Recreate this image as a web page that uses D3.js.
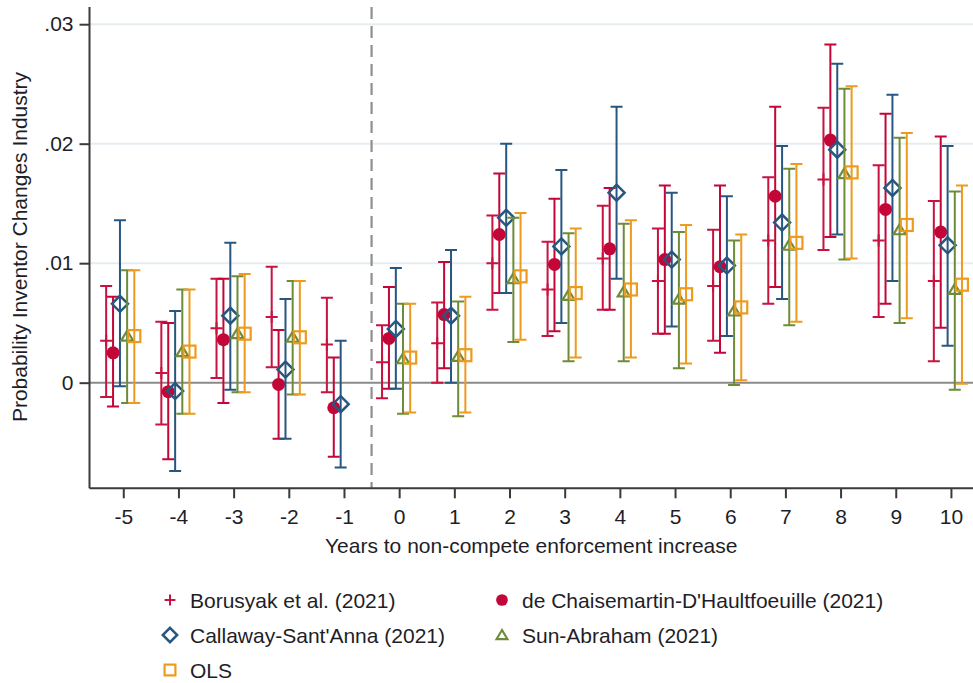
<!DOCTYPE html>
<html>
<head>
<meta charset="utf-8">
<script src="https://cdn.jsdelivr.net/npm/d3@7"></script>
<style>
  html, body { margin: 0; padding: 0; background: #fff; }
  svg { display: block; font-family: "Liberation Sans", Arial, sans-serif; }
</style>
</head>
<body>
<svg id="chart" width="973" height="683"></svg>
<script>
// Event-study estimates: years relative to the enforcement change
const periods = [-5, -4, -3, -2, -1, 0, 1, 2, 3, 4, 5, 6, 7, 8, 9, 10];

// Point estimates and 95% confidence bounds, one array per estimator
const borusyakEst = [0.0035, 0.0008, 0.00455, 0.0055, 0.0032, 0.0017, 0.0033, 0.0100, 0.0078, 0.0104, 0.0085, 0.0081, 0.0119, 0.0170, 0.0119, 0.0085];
const borusyakLo  = [-0.0012, -0.0035, 0.0004, 0.0013, -0.0008, -0.0013, 0.0000, 0.0061, 0.0039, 0.0061, 0.0041, 0.0035, 0.0066, 0.0111, 0.0055, 0.0018];
const borusyakHi  = [0.0081, 0.0051, 0.0087, 0.0097, 0.0071, 0.0048, 0.0067, 0.0140, 0.0118, 0.0148, 0.0129, 0.0128, 0.0172, 0.0230, 0.0182, 0.0152];

const dcdhEst = [0.0025, -0.00075, 0.0036, -0.00015, -0.0021, 0.0037, 0.0057, 0.0124, 0.0099, 0.0112, 0.0103, 0.0097, 0.0156, 0.0203, 0.0145, 0.0126];
const dcdhLo  = [-0.0020, -0.0064, -0.0017, -0.0047, -0.0062, -0.0005, 0.0012, 0.0075, 0.0043, 0.0061, 0.0041, 0.0025, 0.0080, 0.0122, 0.0066, 0.0046];
const dcdhHi  = [0.0072, 0.0050, 0.0087, 0.0044, 0.0021, 0.0080, 0.0101, 0.0175, 0.0154, 0.0163, 0.0165, 0.0165, 0.0231, 0.0283, 0.0225, 0.0206];

const csEst = [0.0066, -0.0007, 0.0056, 0.0011, -0.0018, 0.0045, 0.0056, 0.0138, 0.0114, 0.0159, 0.0103, 0.0098, 0.0134, 0.0195, 0.0163, 0.0115];
const csLo  = [-0.0003, -0.0074, -0.0006, -0.0047, -0.0071, -0.0005, 0.0000, 0.0075, 0.0050, 0.0087, 0.0047, 0.0039, 0.0070, 0.0124, 0.0085, 0.0031];
const csHi  = [0.0136, 0.0060, 0.0117, 0.0070, 0.0035, 0.0096, 0.0111, 0.0200, 0.0178, 0.0231, 0.0159, 0.0156, 0.0198, 0.0267, 0.0241, 0.0198];

// Sun-Abraham and OLS are normalised at t = -1 (no estimate)
const saEst = [0.0039, 0.0026, 0.0041, 0.0038, null, 0.0020, 0.0022, 0.0087, 0.0073, 0.0076, 0.0070, 0.0060, 0.0115, 0.0175, 0.0128, 0.0078];
const saLo  = [-0.0017, -0.0026, -0.0008, -0.0010, null, -0.0026, -0.0028, 0.0034, 0.0018, 0.0018, 0.0012, -0.0002, 0.0048, 0.0103, 0.0050, -0.0006];
const saHi  = [0.0094, 0.0078, 0.0089, 0.0085, null, 0.0066, 0.0068, 0.0138, 0.0125, 0.0133, 0.0126, 0.0119, 0.0179, 0.0246, 0.0205, 0.0160];

const olsEst = [0.0039, 0.0026, 0.0041, 0.0038, null, 0.0021, 0.0023, 0.0089, 0.0075, 0.0078, 0.0074, 0.0063, 0.0117, 0.0176, 0.0132, 0.0082];
const olsLo  = [-0.0017, -0.0026, -0.0008, -0.0010, null, -0.0025, -0.0025, 0.0036, 0.0021, 0.0021, 0.0016, 0.0002, 0.0051, 0.0104, 0.0054, -0.0001];
const olsHi  = [0.0094, 0.0078, 0.0091, 0.0085, null, 0.0066, 0.0072, 0.0142, 0.0129, 0.0136, 0.0132, 0.0124, 0.0183, 0.0248, 0.0209, 0.0165];

const seriesNames = ["Borusyak et al. (2021)", "de Chaisemartin-D'Haultfoeuille (2021)", "Callaway-Sant'Anna (2021)", "Sun-Abraham (2021)", "OLS"];

const yTicks = [0, 0.01, 0.02, 0.03];
const yTickLabels = ["0", ".01", ".02", ".03"];
const xTitle = "Years to non-compete enforcement increase";
const yTitle = "Probability Inventor Changes Industry";

// ---- styling ----
const series = [
  { name: seriesNames[0], est: borusyakEst, lo: borusyakLo, hi: borusyakHi, color: "#c8123f", shift: -0.31, symbol: "plus" },
  { name: seriesNames[1], est: dcdhEst, lo: dcdhLo, hi: dcdhHi, color: "#c20638", shift: -0.185, symbol: "dot" },
  { name: seriesNames[2], est: csEst, lo: csLo, hi: csHi, color: "#275780", shift: -0.06, symbol: "diamond" },
  { name: seriesNames[3], est: saEst, lo: saLo, hi: saHi, color: "#6d8c3a", shift: 0.07, symbol: "triangle" },
  { name: seriesNames[4], est: olsEst, lo: olsLo, hi: olsHi, color: "#ee9a1e", shift: 0.2, symbol: "square" }
];

const svg = d3.select("#chart");
const plotLeft = 89.5, plotRight = 973, plotTop = 7, plotBottom = 488.3;

const x = d3.scaleLinear().domain([-5.612, 10.4]).range([plotLeft, plotRight]);
const y = d3.scaleLinear().domain([-0.00884, 0.03144]).range([plotBottom, plotTop]);

// horizontal grid
svg.append("g").selectAll("line").data(yTicks.filter(d => d !== 0)).join("line")
  .attr("x1", plotLeft).attr("x2", plotRight)
  .attr("y1", d => y(d)).attr("y2", d => y(d))
  .attr("stroke", "#e5edf0").attr("stroke-width", 2);

// zero reference line
svg.append("line")
  .attr("x1", plotLeft).attr("x2", plotRight)
  .attr("y1", y(0)).attr("y2", y(0))
  .attr("stroke", "#8a8a8a").attr("stroke-width", 2);

// treatment onset marker between t=-1 and t=0
svg.append("line")
  .attr("x1", x(-0.5)).attr("x2", x(-0.5))
  .attr("y1", plotTop).attr("y2", plotBottom)
  .attr("stroke", "#8f8f8f").attr("stroke-width", 2.2)
  .attr("stroke-dasharray", "12,7");

// axes
const yAxis = d3.axisLeft(y).tickValues(yTicks)
  .tickFormat((d, i) => yTickLabels[i]).tickSize(10).tickPadding(6);
const gy = svg.append("g").attr("transform", `translate(${plotLeft},0)`).call(yAxis);
gy.select(".domain").attr("d", `M0,${plotTop}V${plotBottom}`);

const xAxis = d3.axisBottom(x).tickValues(periods)
  .tickFormat(d => String(d)).tickSize(10).tickPadding(11);
const gx = svg.append("g").attr("transform", `translate(0,${plotBottom})`).call(xAxis);
gx.select(".domain").attr("d", `M${plotLeft},0H${plotRight}`);

[gx, gy].forEach(g => {
  g.select(".domain").attr("stroke", "#3a3a3a").attr("stroke-width", 2);
  g.selectAll(".tick line").attr("stroke", "#3a3a3a").attr("stroke-width", 2);
  g.selectAll(".tick text").attr("fill", "#1e1e28").attr("font-size", 21)
    .attr("font-family", "Liberation Sans, Arial, sans-serif");
});

// axis titles
svg.append("text")
  .attr("x", (plotLeft + plotRight) / 2).attr("y", 553)
  .attr("text-anchor", "middle").attr("font-size", 21).attr("fill", "#1e1e28")
  .text(xTitle);
svg.append("text")
  .attr("transform", `translate(27,247) rotate(-90)`)
  .attr("text-anchor", "middle").attr("font-size", 21).attr("fill", "#1e1e28")
  .text(yTitle);

// marker drawing
function drawSymbol(g, type, color, scale = 1) {
  const s = scale;
  if (type === "plus") {
    g.append("path").attr("d", `M${-6*s},0H${6*s}M0,${-6*s}V${6*s}`)
      .attr("stroke", color).attr("stroke-width", 2).attr("fill", "none");
  } else if (type === "dot") {
    g.append("circle").attr("r", 6.5 * s).attr("fill", color);
  } else if (type === "diamond") {
    const r = 8 * s;
    g.append("path").attr("d", `M0,${-r}L${r},0L0,${r}L${-r},0Z`)
      .attr("stroke", color).attr("stroke-width", 2.5).attr("fill", "none");
  } else if (type === "triangle") {
    g.append("path").attr("d", `M0,${-5.5*s}L${6*s},${4.5*s}L${-6*s},${4.5*s}Z`)
      .attr("stroke", color).attr("stroke-width", 2.2).attr("fill", "none");
  } else if (type === "square") {
    const h = 6 * s;
    g.append("rect").attr("x", -h).attr("y", -h).attr("width", 2*h).attr("height", 2*h)
      .attr("stroke", color).attr("stroke-width", 2.2).attr("fill", "none");
  }
}

const capHalf = 6;
series.forEach(s => {
  const g = svg.append("g");
  periods.forEach((p, i) => {
    if (s.est[i] == null) return;
    const cx = x(p + s.shift);
    const yl = y(s.lo[i]), yh = y(s.hi[i]);
    g.append("path")
      .attr("d", `M${cx},${yl}V${yh}M${cx - capHalf},${yl}H${cx + capHalf}M${cx - capHalf},${yh}H${cx + capHalf}`)
      .attr("stroke", s.color).attr("stroke-width", 2).attr("fill", "none");
    const m = g.append("g").attr("transform", `translate(${cx},${y(s.est[i])})`);
    drawSymbol(m, s.symbol, s.color);
  });
});

// legend
const legendPos = [
  { col: 0, row: 0 }, { col: 1, row: 0 },
  { col: 0, row: 1 }, { col: 1, row: 1 },
  { col: 0, row: 2 }
];
const colX = [170, 502], rowY = [600, 635, 670];
series.forEach((s, i) => {
  const lx = colX[legendPos[i].col], ly = rowY[legendPos[i].row];
  const m = svg.append("g").attr("transform", `translate(${lx},${ly})`);
  drawSymbol(m, s.symbol, s.color, 0.9);
  svg.append("text").attr("x", lx + 20).attr("y", ly + 7.5)
    .attr("font-size", 21).attr("fill", "#1e1e28").text(s.name);
});
</script>
</body>
</html>
